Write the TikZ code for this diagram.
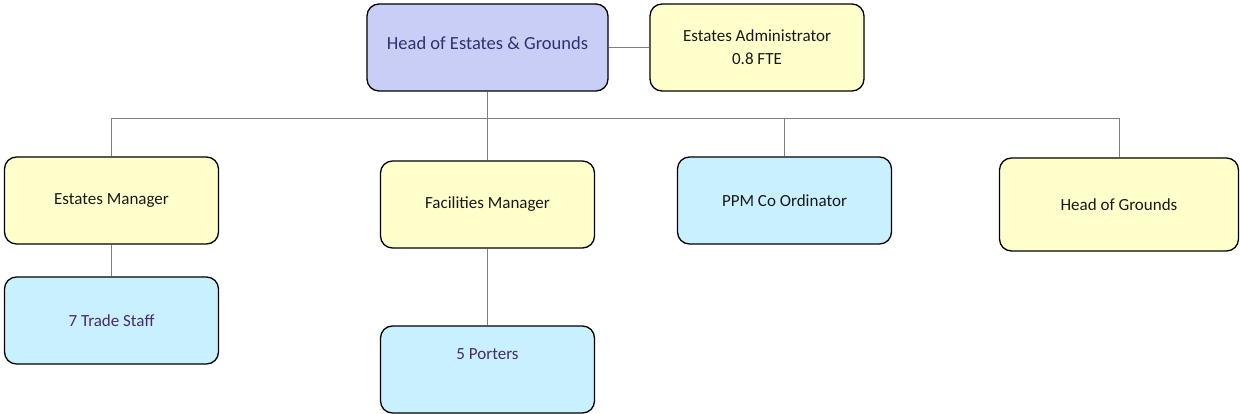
\documentclass[tikz,border=0pt]{standalone}
\usepackage{fontspec}
\setmainfont{Carlito}
\usepackage{tikz}

\definecolor{boxlav}{HTML}{C9CEF6}
\definecolor{boxyel}{HTML}{FFFFCC}
\definecolor{boxblu}{HTML}{C9F0FF}
\definecolor{txtnavy}{HTML}{2E3170}
\definecolor{txtpurp}{HTML}{4A2A6E}
\definecolor{linegray}{HTML}{7F7F7F}

\begin{document}
\begin{tikzpicture}[x=1pt, y=-1pt,
    post/.style={draw=black, line width=1.3pt, rounded corners=12pt,
        minimum width=214pt, minimum height=87pt, inner sep=0pt,
        align=center, font=\fontsize{17}{23}\selectfont, text=black!90},
    wide/.style={minimum width=239pt},
    link/.style={draw=linegray, line width=0.9pt}]
    \useasboundingbox (0,0) rectangle (1240,414);

    \coordinate (H)  at (487.5, 47.5);
    \coordinate (A)  at (757, 47.5);
    \coordinate (M1) at (111.5, 200.5);
    \coordinate (M2) at (487.5, 204.5);
    \coordinate (M3) at (784.5, 200.5);
    \coordinate (M4) at (1119, 204.5);
    \coordinate (S1) at (111.5, 320.5);
    \coordinate (S2) at (487.5, 369.5);
    \coordinate (bus) at (487.5, 118);

    \node[post, minimum width=241pt, fill=boxlav, text=txtnavy, text depth=8pt,
        font=\fontsize{18.5}{23}\selectfont] (head) at (H) {Head of Estates \& Grounds}; % top
    \node[post, fill=boxyel] (admin) at (A) {Estates Administrator\\0.8 FTE};
    \node[post, fill=boxyel] (estman) at (M1) {Estates Manager};
    \node[post, fill=boxyel] (facman) at (M2) {Facilities Manager};
    \node[post, fill=boxblu] (ppm) at (M3) {PPM Co Ordinator};
    \node[post, wide, minimum height=93pt, fill=boxyel] (grounds) at (M4) {Head of Grounds};
    \node[post, fill=boxblu, text=txtpurp] (trade) at (S1) {7 Trade Staff};
    \node[post, fill=boxblu, text=txtpurp, text depth=30pt] (porters) at (S2) {5 Porters};

    \path[link] (head.east) -- (admin.west);
    \path[link] (head.south) -- (bus);
    \path[link] (bus) -| (estman.north);
    \path[link] (bus) -- (facman.north);
    \path[link] (bus) -| (ppm.north);
    \path[link] (bus) -| (grounds.north);
    \path[link] (estman.south) -- (trade.north);
    \path[link] (facman.south) -- (porters.north);
\end{tikzpicture}
\end{document}
